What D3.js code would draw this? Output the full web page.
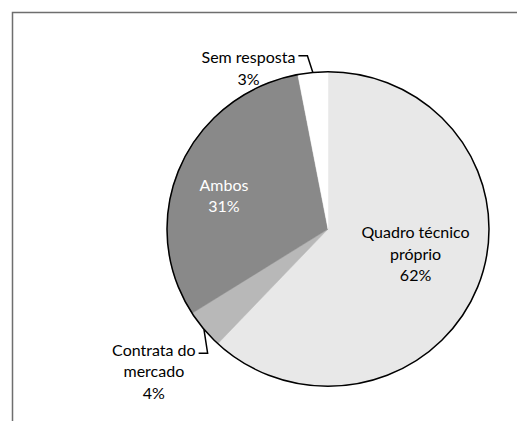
<!DOCTYPE html>
<html>
<head>
<meta charset="utf-8">
<script src="https://cdn.jsdelivr.net/npm/d3@7"></script>
<style>
  body { margin: 0; background: #fff; }
  text { font-family: Lato, "Open Sans", sans-serif; font-size: 16px; }
</style>
</head>
<body>
<svg id="chart" width="517" height="421"></svg>
<script>
// data
var categories = ["Quadro técnico próprio", "Contrata do mercado", "Ambos", "Sem resposta"];
var values = [62, 4, 31, 3];
var labelLines = [["Quadro técnico", "próprio"], ["Contrata do", "mercado"], ["Ambos"], ["Sem resposta"]];
var colors = ["#e8e8e8", "#b8b8b8", "#898989", "#ffffff"];

var width = 517, height = 421;
var cx = 328, cy = 229, r = 161, ky = 0.977;
var lineH = 21.5;

// label placement: radius along mid angle, then nudge
var labelStyle = [
    {rad: 92, dx: 2, dy: -8, fill: "#000", leader: false},
    {rad: 226, dx: 0, dy: 2, fill: "#000", leader: true, side: "below"},
    {rad: 109, dx: -4, dy: 9, fill: "#fff", leader: false},
    {rad: 165, dx: -64, dy: 0, fill: "#000", leader: true, side: "above"}
];

var svg = d3.select("#chart");

// frame
svg.append("path")
    .attr("d", "M12.5," + height + "V12.5H" + width)
    .attr("fill", "none")
    .attr("stroke", "#6e6e6e")
    .attr("stroke-width", 1.5);

var data = categories.map(function(c, i) {
    return {cat: c, value: values[i], lines: labelLines[i], col: colors[i], st: labelStyle[i]};
});

var pie = d3.pie()
    .sort(null)
    .value(function(d) { return d.value; });
var arcs = pie(data);

var arc = d3.arc().innerRadius(0).outerRadius(r);

var g = svg.append("g")
    .attr("transform", "translate(" + cx + "," + cy + ")");
var gp = g.append("g").attr("transform", "scale(1," + ky + ")");

gp.selectAll("path.slice")
    .data(arcs)
    .enter().append("path")
    .attr("class", "slice")
    .attr("d", arc)
    .style("fill", function(d) { return d.data.col; })
    .style("stroke", function(d) { return d.data.col; })
    .style("stroke-width", 0.5);

gp.append("path")
    .attr("d", d3.arc().innerRadius(0).outerRadius(r)({startAngle: 0, endAngle: 2 * Math.PI}))
    .attr("fill", "none")
    .attr("stroke", "#000")
    .attr("stroke-width", 1.5)
    .attr("vector-effect", "non-scaling-stroke");

function polar(a, rad) {
    return [Math.sin(a) * rad, -Math.cos(a) * rad * ky];
}

var labels = g.selectAll("g.lab")
    .data(arcs)
    .enter().append("g")
    .attr("class", "lab")
    .attr("transform", function(d) {
        var m = (d.startAngle + d.endAngle) / 2;
        var p = polar(m, d.data.st.rad);
        d.lx = p[0] + d.data.st.dx;
        d.ly = p[1] + d.data.st.dy;
        return "translate(" + d.lx + "," + d.ly + ")";
    });

labels.each(function(d) {
    var lines = d.data.lines.concat([d3.format(".0f")(d.data.value) + "%"]);
    var n = lines.length;
    d3.select(this).selectAll("text")
        .data(lines)
        .enter().append("text")
        .attr("text-anchor", "middle")
        .attr("y", function(t, i) { return (i - (n - 1) / 2) * lineH; })
        .attr("dy", "0.35em")
        .style("fill", d.data.st.fill)
        .text(function(t) { return t; });
});

// leader lines for the outside labels
labels.filter(function(d) { return d.data.st.leader; })
    .each(function(d) {
        var first = d3.select(this).select("text");
        var w = first.node().getComputedTextLength();
        var n = d.data.lines.length + 1;
        var ty = -(n - 1) / 2 * lineH;
        var x0 = w / 2 + 3, x1 = x0 + 9;
        var m = (d.startAngle + d.endAngle) / 2;
        var e = polar(m, r);
        var ex = e[0] - d.lx, ey = e[1] - d.ly;
        var yy = d.data.st.side == "above" ? ty - 2 : ty + 3;
        d3.select(this).append("path")
            .attr("d", "M" + x0 + "," + yy + "H" + x1 + "L" + ex + "," + ey)
            .attr("fill", "none")
            .attr("stroke", "#000")
            .attr("stroke-width", 1.5);
    });
</script>
</body>
</html>
